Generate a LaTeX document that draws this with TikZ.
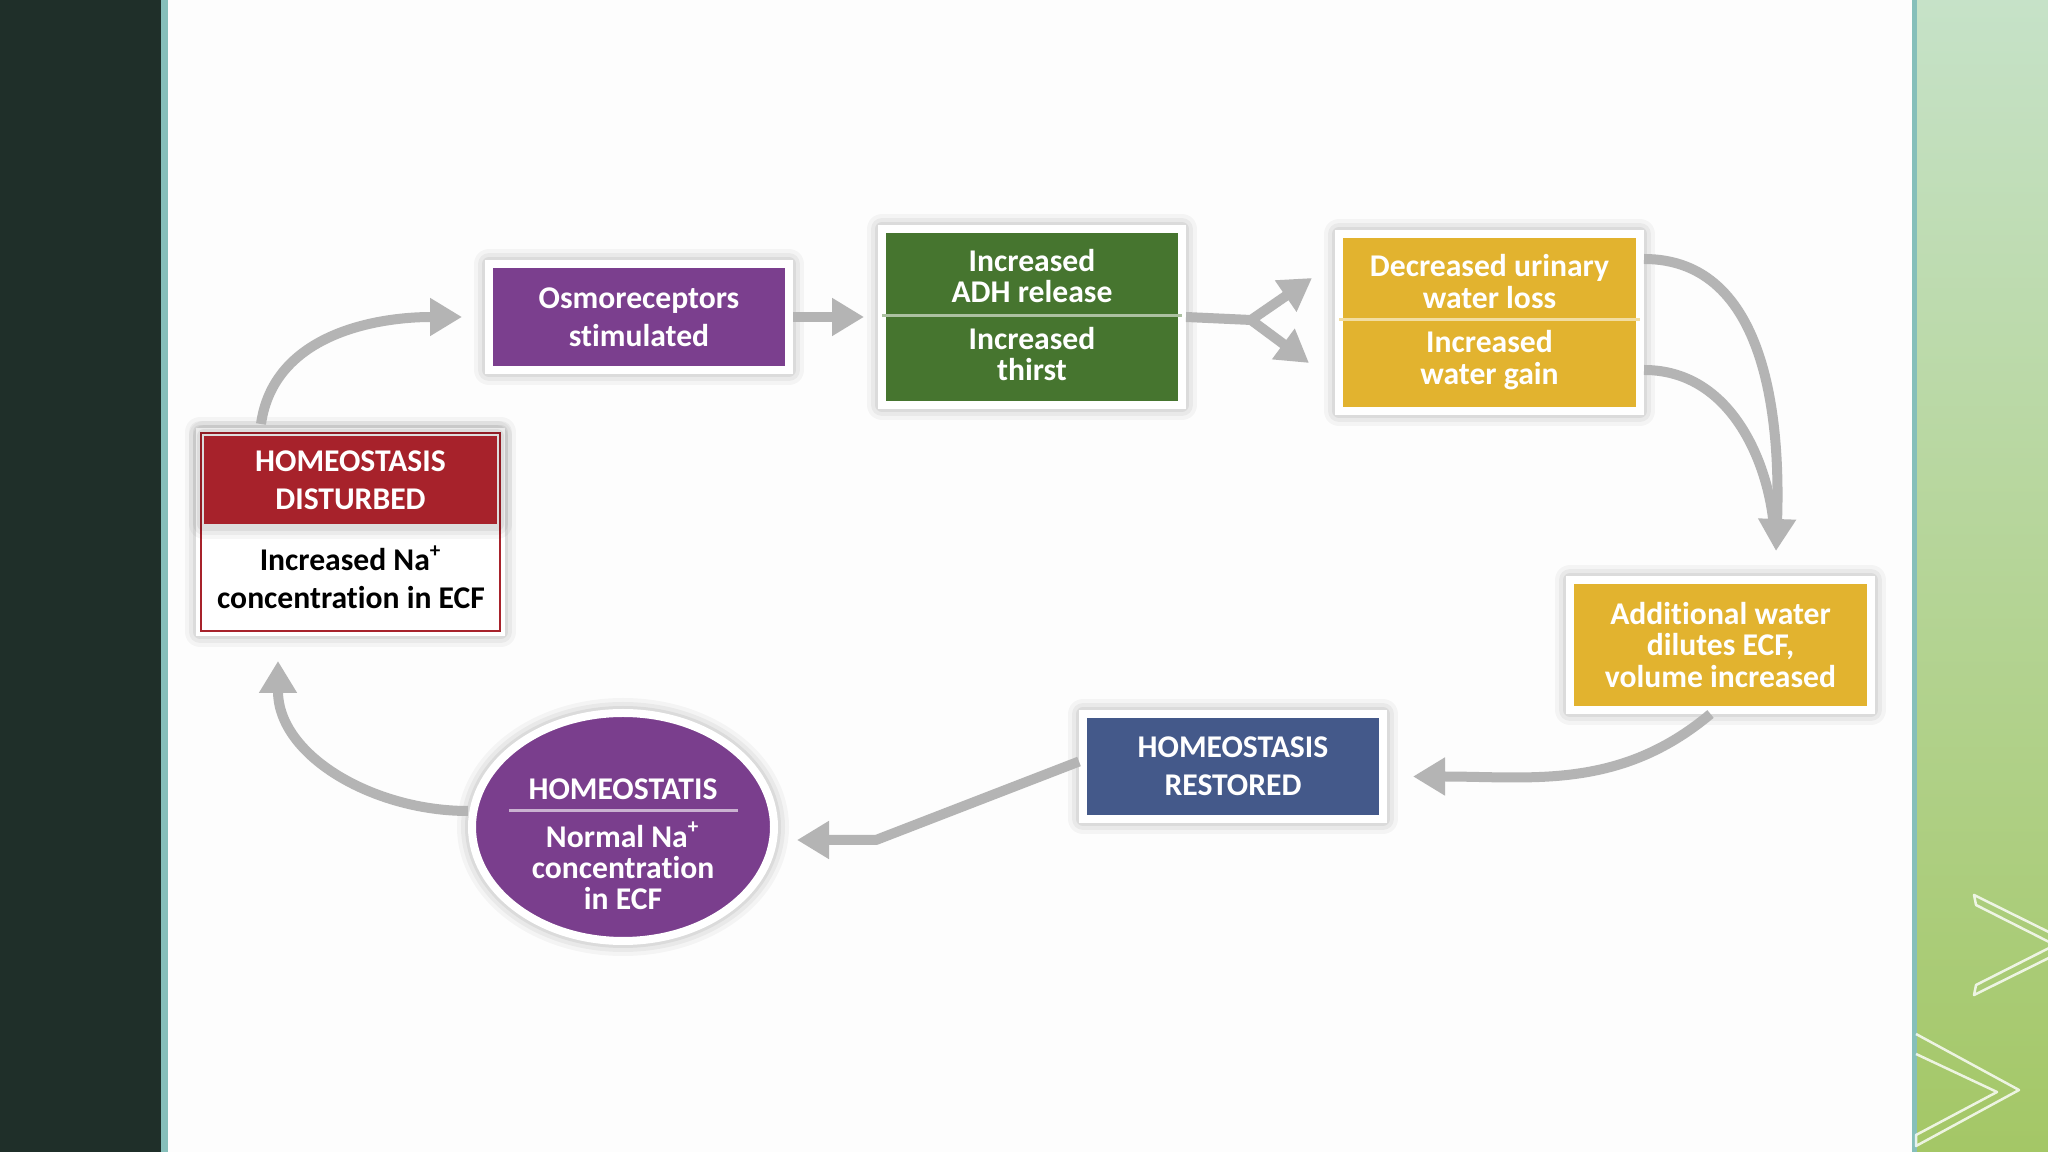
\documentclass[tikz,border=0pt]{standalone}
\usepackage{fontspec}
\setmainfont{Carlito}[Ligatures=NoCommon]
\usetikzlibrary{arrows.meta,shapes.geometric,calc}
\definecolor{panel}{HTML}{1F2F29}
\definecolor{stripe}{HTML}{86BFBA}
\definecolor{sheet}{HTML}{FDFDFD}
\definecolor{arrowgray}{HTML}{B4B4B4}
\definecolor{distred}{HTML}{A7222B}
\definecolor{osmopurple}{HTML}{7B3F8E}
\definecolor{adhgreen}{HTML}{46752F}
\definecolor{gainyellow}{HTML}{E2B32F}
\definecolor{restblue}{HTML}{44598A}
\definecolor{ovalpurple}{HTML}{7A3E8D}
\definecolor{mintop}{HTML}{C6E2C8}
\definecolor{minmid}{HTML}{B3D9A0}
\definecolor{minbot}{HTML}{A4C766}

\begin{document}
\begin{tikzpicture}[x=0.1mm,y=-0.1mm,>={Triangle[length=3.2mm,width=3.6mm]},
  haze/.style={preaction={draw=black,draw opacity=.035,line width=3mm,line join=round},
    preaction={draw=black,draw opacity=.045,line width=2.2mm,line join=round},
    preaction={draw=black,draw opacity=.06,line width=1.4mm,line join=round}},
  box/.style={haze,draw=white,line width=0.8mm,inner sep=0pt,text=white,align=center,
    font=\bfseries\fontsize{9}{10.8}\selectfont},
  lbl/.style={inner sep=0pt,text=white,align=center,font=\bfseries\fontsize{9}{8.9}\selectfont},
  conn/.style={draw=arrowgray,line width=1mm,line join=round,->}]
  \useasboundingbox (0,0) rectangle (2048,1152);
  \fill[panel] (0,0) rectangle (161,1152);
  \fill[stripe] (161,0) rectangle (168,1152);
  \fill[sheet] (168,0) rectangle (1912,1152);
  \fill[stripe] (1912,0) rectangle (1917,1152);
  \shade[top color=mintop,middle color=minmid,bottom color=minbot] (1917,0) rectangle (2048,1152);
  \draw[white,line width=0.25mm,draw opacity=.8,line join=round] (1974,895) -- (2075,945) -- (1974,995) -- (1976,985) -- (2055,945) -- (1976,905) -- cycle;
  \draw[white,line width=0.25mm,draw opacity=.8,line join=round] (1916,1034) -- (2019,1090) -- (1916,1146) -- (1916,1135) -- (1997,1092) -- (1916,1054);

  \node[box,fill=white,minimum width=30.1mm,minimum height=20mm] (dist) at (350.5,532) {};
  \draw[distred,line width=.25mm] ([shift={(.5mm,-.5mm)}]dist.north west) rectangle ([shift={(-.5mm,.5mm)}]dist.south east);
  \node[box,haze/.style={},draw=none,fill=distred,minimum width=29.3mm,minimum height=8.8mm,anchor=north] (dist-top) at ([yshift=-.4mm]dist.north) {HOMEOSTASIS\\DISTURBED};
  \node[lbl,text=black,font=\bfseries\fontsize{9}{10.8}\selectfont] (dist-bot) at (351,577) {Increased Na\textsuperscript{+}\\concentration in ECF};

  \node[box,fill=osmopurple,minimum width=30mm,minimum height=10.6mm] (osmo) at (639,317) {Osmoreceptors\\stimulated};

  \node[box,fill=adhgreen,minimum width=30mm,minimum height=17.6mm] (adh) at (1032,317) {};
  \draw[adhgreen!45!white,line width=.3mm] ([xshift=.4mm,yshift=.1mm]adh.west) -- ([xshift=-.4mm,yshift=.1mm]adh.east);
  \node[lbl] (adh-a) at (1032,276) {Increased\\ADH release};
  \node[lbl] (adh-b) at (1032,354) {Increased\\thirst};

  \node[box,fill=gainyellow,minimum width=30.1mm,minimum height=17.7mm] (urine) at (1489.5,322.5) {};
  \draw[gainyellow!45!white,line width=.3mm] ([xshift=.4mm,yshift=.25mm]urine.west) -- ([xshift=-.4mm,yshift=.25mm]urine.east);
  \node[lbl] (urine-a) at (1489.5,281.5) {Decreased urinary\\water loss};
  \node[lbl] (urine-b) at (1489.5,360) {Increased\\water gain};

  \node[box,fill=gainyellow,minimum width=30.1mm,minimum height=13mm,font=\bfseries\fontsize{9}{8.9}\selectfont] (addw) at (1720.5,645) {Additional water\\dilutes ECF,\\volume increased};

  \node[box,fill=restblue,minimum width=30mm,minimum height=10.5mm] (rest) at (1233,766.5) {HOMEOSTASIS\\RESTORED};

  \node[box,ellipse,fill=ovalpurple,minimum width=30.2mm,minimum height=22.8mm] (homeo) at (623,827) {};
  \node[lbl] (homeo-a) at (623,789) {HOMEOSTATIS};
  \draw[ovalpurple!40!white,line width=.3mm] ($(homeo.center)+(-114,-16)$) -- ($(homeo.center)+(115,-16)$);
  \node[lbl] (homeo-b) at (623,866) {Normal Na\textsuperscript{+}\\concentration\\in ECF};

  \draw[conn] ([xshift=-8.95mm,yshift=.4mm]dist.north) to[out=82,in=180] ([xshift=-2.3mm]osmo.west);
  \draw[conn] (osmo.east) -- ([xshift=-1.4mm]adh.west);
  \coordinate (fork) at ([xshift=6.5mm,yshift=-.3mm]adh.east);
  \draw[conn] (adh.east) -- (fork) -- ([xshift=-2.3mm,yshift=4.45mm]urine.west);
  \draw[conn] (fork) -- ([xshift=-2.6mm,yshift=-4.05mm]urine.west);
  \coordinate (drop) at ([xshift=5.55mm,yshift=2.5mm]addw.north);
  \draw[conn,-,shorten >=2.5mm] ([yshift=-4.75mm]urine.east) to[out=0,in=95] (drop);
  \draw[conn] ([yshift=6.35mm]urine.east) to[out=0,in=88] (drop);
  \draw[conn] ([xshift=-1mm]addw.south) to[out=-140,in=0] ([xshift=2.6mm,yshift=-1mm]rest.east);
  \draw[conn] ([yshift=.5mm]rest.west) -- ([xshift=9.8mm,yshift=-1.3mm]homeo.east) -- ([xshift=1.9mm,yshift=-1.3mm]homeo.east);
  \draw[conn] ([yshift=1.6mm]homeo.west) to[out=180,in=-90] ([xshift=-7.25mm,yshift=-2.5mm]dist.south);
\end{tikzpicture}
\end{document}
